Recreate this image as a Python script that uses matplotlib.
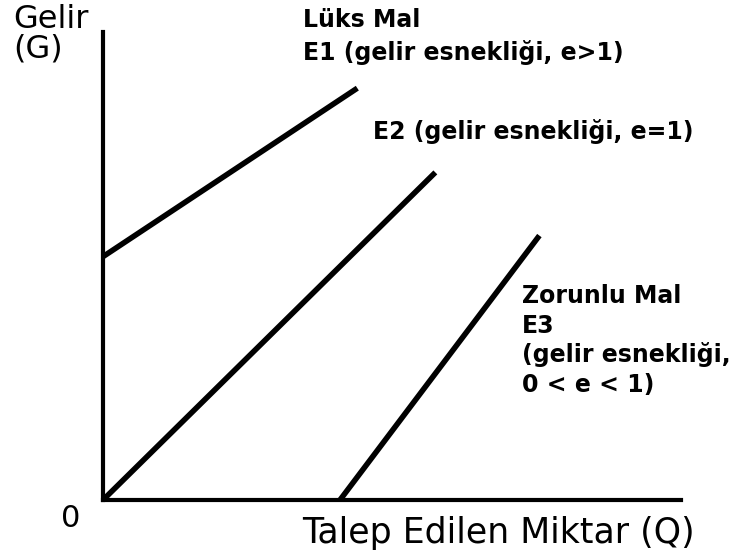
import matplotlib
matplotlib.use("Agg")
import matplotlib.pyplot as plt

W, H = 731, 559

# Engel eğrileri (Q: talep edilen miktar, G: gelir), eksen birimleri 0-10
e1_q = [0.0, 4.4]
e1_g = [5.2, 8.8]
e2_q = [0.0, 5.75]
e2_g = [0.0, 7.0]
e3_q = [4.1, 7.55]
e3_g = [0.0, 5.65]

y_label = ["Gelir", "(G)"]
x_label = "Talep Edilen Miktar (Q)"
e1_text = ["Lüks Mal", "E1 (gelir esnekliği, e>1)"]
e2_text = "E2 (gelir esnekliği, e=1)"
e3_text = ["Zorunlu Mal", "E3", "(gelir esnekliği,", "0 < e < 1)"]


def px(x, y):
    return x / W, 1 - y / H


fig = plt.figure(figsize=(W / 100, H / 100), dpi=100)
x0, y0, x1, y1 = 103, 500, 681, 32
ax = fig.add_axes([x0 / W, (H - y0) / H, (x1 - x0) / W, (y0 - y1) / H])
ax.set_xlim(0, 10)
ax.set_ylim(0, 10)
for side in ("top", "right"):
    ax.spines[side].set_visible(False)
for side in ("left", "bottom"):
    ax.spines[side].set_linewidth(3)
    ax.spines[side].set_color("black")
ax.set_xticks([])
ax.set_yticks([])

for q, g in ((e1_q, e1_g), (e2_q, e2_g), (e3_q, e3_g)):
    ax.plot(q, g, color="black", lw=4, solid_capstyle="butt", clip_on=False)

reg = dict(family="DejaVu Sans", color="black", va="baseline")
bold = dict(reg, fontweight="bold", fontsize=17)

fig.text(*px(13, 28), y_label[0], fontsize=23, **reg)
fig.text(*px(13, 58), y_label[1], fontsize=23, **reg)
fig.text(*px(61, 527), "0", fontsize=22, **reg)
fig.text(*px(302, 543), x_label, fontsize=25, **reg)

fig.text(*px(303, 27), e1_text[0], **bold)
fig.text(*px(303, 60), e1_text[1], **bold)
fig.text(*px(373, 139), e2_text, **bold)
for i, line in enumerate(e3_text):
    fig.text(*px(522, 303 + i * 29.7), line, **bold)

fig.savefig("out.png", dpi=100)
